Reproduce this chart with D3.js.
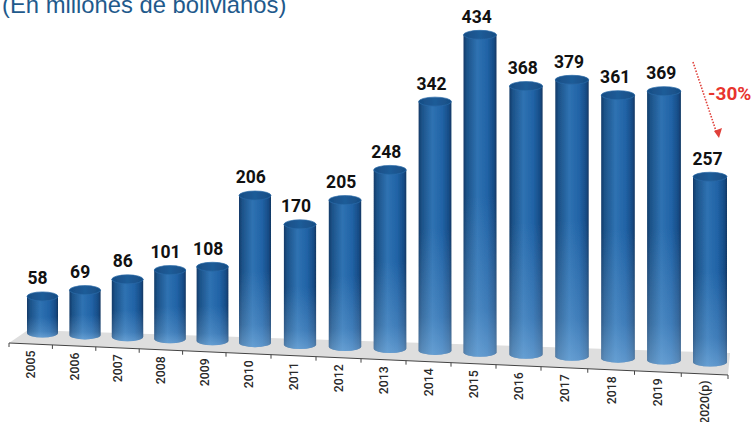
<!DOCTYPE html>
<html lang="es">

<head>
    <meta charset="UTF-8">
    <title>Millones de bolivianos</title>
    <script src="https://cdn.jsdelivr.net/npm/d3@7"></script>
    <style>
        html, body {
            margin: 0;
            padding: 0;
            background: #fff;
            overflow: hidden;
        }

        .value {
            font-family: Roboto, sans-serif;
            font-weight: 700;
            font-size: 17.5px;
            fill: #111;
            text-anchor: middle;
        }

        .year {
            font-family: Roboto, sans-serif;
            font-weight: 500;
            font-size: 12.3px;
            fill: #2a2a2a;
            text-anchor: end;
        }
    </style>
</head>

<body>
    <div id="chart"></div>

    <script>
        const years = ["2005", "2006", "2007", "2008", "2009", "2010", "2011", "2012", "2013", "2014", "2015", "2016", "2017", "2018", "2019", "2020(p)"];
        const values = [58, 69, 86, 101, 108, 206, 170, 205, 248, 342, 434, 368, 379, 361, 369, 257];
        const title = "(En millones de bolivianos)";
        const changeLabel = "-30%";

        const width = 753, height = 422;

        const svg = d3.select("#chart").append("svg")
            .attr("width", width)
            .attr("height", height);

        // the picture is in perspective, so steps grow a bit to the right
        const xBar = d3.scaleLinear().domain([0, 5, 10, 15]).range([42.5, 255, 480, 710]);
        const xTick = d3.scaleLinear().domain([0, 5, 12, 16]).range([9, 226, 541, 728]);
        const barWidth = d3.scaleLinear().domain([0, 15]).range([31, 34]);
        const baseY = d3.scaleLinear().domain([0, 15]).range([333, 362]);
        // source bars don't start at zero on the floor, small ones come out shorter
        const barHeight = d3.scaleLinear().domain([9, 434]).range([0, 317.5]);
        const axisY = d3.scaleLinear().domain([9, 728]).range([343, 375]);
        const labelShift = d3.scaleLinear().domain([0, 15]).range([-5, -2.5]);

        const defs = svg.append("defs");

        const sideGrad = defs.append("linearGradient").attr("id", "side");
        [[0, "#123a68"], [0.1, "#1c5288"], [0.42, "#2f72b2"], [0.72, "#2163a6"], [0.92, "#174c86"], [1, "#103662"]]
            .forEach(s => sideGrad.append("stop").attr("offset", s[0]).attr("stop-color", s[1]));

        const lightGrad = defs.append("linearGradient").attr("id", "light")
            .attr("x1", 0).attr("x2", 0).attr("y1", 0).attr("y2", 1);
        [[0, 0], [0.5, 0], [0.85, 0.22], [1, 0.45]]
            .forEach(s => lightGrad.append("stop").attr("offset", s[0]).attr("stop-color", "#a9d6fb").attr("stop-opacity", s[1]));

        const capGrad = defs.append("linearGradient").attr("id", "cap");
        [[0, "#174d84"], [0.5, "#1f5c98"], [1, "#174d84"]]
            .forEach(s => capGrad.append("stop").attr("offset", s[0]).attr("stop-color", s[1]));

        defs.append("filter").attr("id", "soft")
            .append("feGaussianBlur").attr("stdDeviation", 0.45);

        // floor
        svg.append("path")
            .attr("d", d3.line()([
                [xTick(0), axisY(xTick(0))],
                [xTick(0) + 19, axisY(xTick(0)) - 13],
                [xTick(16) + 2, axisY(xTick(16)) - 22],
                [xTick(16), axisY(xTick(16))]
            ]) + "Z")
            .attr("fill", "#dedede");

        // axis line and ticks
        svg.append("line")
            .attr("x1", xTick(0)).attr("y1", axisY(xTick(0)))
            .attr("x2", xTick(16)).attr("y2", axisY(xTick(16)))
            .attr("stroke", "#444").attr("stroke-width", 1);

        svg.selectAll(".tick")
            .data(d3.range(17))
            .enter().append("line")
            .attr("class", "tick")
            .attr("x1", d => xTick(d)).attr("x2", d => xTick(d))
            .attr("y1", d => axisY(xTick(d)))
            .attr("y2", d => axisY(xTick(d)) + 4)
            .attr("stroke", "#444").attr("stroke-width", 1);

        // cylinders
        const ry = 4.5;
        const bars = svg.selectAll(".bar")
            .data(values)
            .enter().append("g")
            .attr("class", "bar")
            .attr("filter", "url(#soft)");

        const bodyPath = (d, i) => {
            const rx = barWidth(i) / 2;
            const cx = xBar(i);
            const yb = baseY(i);
            const yt = yb - barHeight(d);
            return `M${cx - rx},${yt} L${cx - rx},${yb} A${rx},${ry} 0 0 0 ${cx + rx},${yb} L${cx + rx},${yt} Z`;
        };

        bars.append("path").attr("d", bodyPath).attr("fill", "url(#side)");
        bars.append("path").attr("d", bodyPath).attr("fill", "url(#light)");
        bars.append("ellipse")
            .attr("cx", (d, i) => xBar(i))
            .attr("cy", (d, i) => baseY(i) - barHeight(d))
            .attr("rx", (d, i) => barWidth(i) / 2)
            .attr("ry", ry)
            .attr("fill", "url(#cap)")
            .attr("stroke", "#2a6aa8")
            .attr("stroke-width", 0.7);

        // value labels
        svg.selectAll(".value")
            .data(values)
            .enter().append("text")
            .attr("class", "value")
            .attr("x", (d, i) => xBar(i) + labelShift(i))
            .attr("y", (d, i) => baseY(i) - barHeight(d) - ry - 7.5)
            .text(d => d);

        // year labels
        svg.selectAll(".year")
            .data(years)
            .enter().append("text")
            .attr("class", "year")
            .attr("transform", (d, i) => {
                const x = xTick(i + 0.5);
                return `translate(${x + 4.5},${axisY(xTick(i)) + 7.5}) rotate(-90)`;
            })
            .text(d => d);

        // title, cut by the top of the picture like the source
        svg.append("text")
            .attr("x", 2)
            .attr("y", 12.5)
            .attr("font-family", "'Liberation Sans', Arial, sans-serif")
            .attr("font-size", 23.8)
            .attr("fill", "#1f5a8c")
            .text(title);

        // -30% arrow
        const arrowFrom = [693, 62], arrowTo = [716, 131];
        svg.append("line")
            .attr("x1", arrowFrom[0]).attr("y1", arrowFrom[1])
            .attr("x2", arrowTo[0]).attr("y2", arrowTo[1])
            .attr("stroke", "#e0403a").attr("stroke-width", 1.6)
            .attr("stroke-dasharray", "1.5 1.5");
        svg.append("path")
            .attr("d", "M714,131 L722,128 L719,138 Z")
            .attr("fill", "#e0403a");
        svg.append("text")
            .attr("x", 708)
            .attr("y", 99.5)
            .attr("font-family", "Roboto, sans-serif")
            .attr("font-weight", 700)
            .attr("font-size", 19)
            .attr("fill", "#e8342e")
            .text(changeLabel);
    </script>
</body>

</html>
